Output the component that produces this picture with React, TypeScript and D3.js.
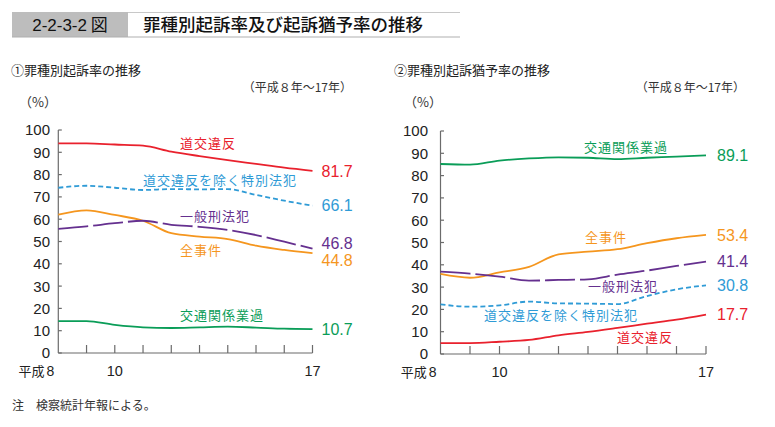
import React from "react";
import * as d3 from "d3";

// ---- data ----
const years = [8, 9, 10, 11, 12, 13, 14, 15, 16, 17];
const xTickLabels: Record<number, string> = { 8: "平成8", 10: "10", 17: "17" };
const yTicks = [0, 10, 20, 30, 40, 50, 60, 70, 80, 90, 100];

const seriesNames = ["全事件", "一般刑法犯", "道交違反を除く特別法犯", "道交違反", "交通関係業過"];

// ① 起訴率
const kisoZenjiken = [62.0, 64.0, 61.9, 59.3, 53.7, 52.2, 51.1, 48.1, 46.2, 44.8];
const kisoIppan = [55.7, 56.8, 58.2, 59.3, 57.5, 56.6, 55.2, 52.9, 49.9, 46.8];
const kisoTokubetsu = [74.1, 75.0, 74.1, 73.1, 73.5, 73.4, 73.5, 70.9, 68.3, 66.1];
const kisoDoukou = [94.0, 94.0, 93.5, 93.0, 90.3, 88.3, 86.5, 84.8, 83.1, 81.7];
const kisoKoutsu = [14.3, 14.3, 12.6, 11.5, 11.2, 11.5, 11.8, 11.4, 10.9, 10.7];

// ② 起訴猶予率
const yuyoZenjiken = [35.9, 34.2, 36.6, 39.1, 44.7, 45.9, 47.0, 49.7, 51.9, 53.4];
const yuyoIppan = [36.9, 36.0, 34.7, 32.9, 33.2, 33.5, 35.6, 37.4, 39.5, 41.4];
const yuyoTokubetsu = [22.3, 21.2, 21.8, 23.5, 22.7, 22.6, 22.4, 26.0, 29.0, 30.8];
const yuyoDoukou = [4.9, 4.9, 5.5, 6.3, 8.4, 9.9, 11.7, 13.6, 15.4, 17.7];
const yuyoKoutsu = [85.2, 84.9, 86.7, 87.7, 88.2, 88.0, 87.4, 88.0, 88.5, 89.1];

// ---- styles ----
const colors = ["#f5961e", "#65308f", "#2f9bd6", "#e9212d", "#0a9d58"];
const dashes = ["", "30,5", "5,3", "", ""];

const JP = "'Noto Sans CJK JP', 'Noto Sans', sans-serif";
const NUM = "'Liberation Sans', Arial, sans-serif";

type Panel = {
  title: string;
  sub: string;
  values: number[][];
  xRange: [number, number];
  yRange: [number, number];
  yLabelX: number;
  titleX: number;
  subRight: number;
  pctX: number;
  nameLabels: { x: number; y: number }[];
  valueDy: number[];
  valueDx: number;
};

const panels: Panel[] = [
  {
    title: "①罪種別起訴率の推移",
    sub: "（平成８年～17年）",
    values: [kisoZenjiken, kisoIppan, kisoTokubetsu, kisoDoukou, kisoKoutsu],
    xRange: [58.3, 312.5],
    yRange: [353, 130],
    yLabelX: 50,
    titleX: 11,
    subRight: 352,
    pctX: 19,
    nameLabels: [
      { x: 180, y: 255 },
      { x: 180, y: 221 },
      { x: 143, y: 185 },
      { x: 180, y: 148 },
      { x: 180, y: 320 },
    ],
    valueDy: [7, -5, 0, 0, 0],
    valueDx: 9,
  },
  {
    title: "②罪種別起訴猶予率の推移",
    sub: "（平成８年～17年）",
    values: [yuyoZenjiken, yuyoIppan, yuyoTokubetsu, yuyoDoukou, yuyoKoutsu],
    xRange: [440.5, 706],
    yRange: [354, 131],
    yLabelX: 428,
    titleX: 394,
    subRight: 745,
    pctX: 404,
    nameLabels: [
      { x: 585, y: 242 },
      { x: 588, y: 291 },
      { x: 484, y: 320 },
      { x: 617, y: 342 },
      { x: 584, y: 152 },
    ],
    valueDy: [0, 0, 0, 0, 0],
    valueDx: 11,
  },
];

function PanelView({ p }: { p: Panel }) {
  const x = d3.scaleLinear().domain([8, 17]).range(p.xRange);
  const y = d3.scaleLinear().domain([0, 100]).range(p.yRange);
  const line = d3
    .line<number>()
    .x((_, i) => x(years[i]))
    .y((v) => y(v))
    .curve(d3.curveMonotoneX);
  const axisColor = "#6b6b6b";
  const x0 = x(8);
  const y0 = y(0);
  return (
    <g>
      <text x={p.titleX} y={75} fontFamily={JP} fontSize={13} fill="#222">
        {p.title}
      </text>
      <text x={p.subRight} y={92} textAnchor="end" fontFamily={JP} fontSize={12} fill="#333">
        {p.sub}
      </text>
      <text x={p.pctX} y={107} fontFamily={JP} fontSize={13} fill="#333">
        （%）
      </text>
      {/* axes */}
      <line x1={x0} x2={x0} y1={y(100)} y2={y0} stroke={axisColor} strokeWidth={1.2} />
      <line x1={x0} x2={x(17)} y1={y0} y2={y0} stroke={axisColor} strokeWidth={1.2} />
      {yTicks.map((t) => (
        <g key={"y" + t}>
          <line x1={x0} x2={x0 + 3.5} y1={y(t)} y2={y(t)} stroke={axisColor} strokeWidth={1.2} />
          <text
            x={p.yLabelX}
            y={y(t)}
            dy="0.36em"
            textAnchor="end"
            fontFamily={NUM}
            fontSize={15}
            fill="#222"
          >
            {t}
          </text>
        </g>
      ))}
      {years.map((yr) => (
        <g key={"x" + yr}>
          {yr !== 8 && (
            <line x1={x(yr)} x2={x(yr)} y1={y0} y2={y0 - 8} stroke={axisColor} strokeWidth={1.2} />
          )}
          {xTickLabels[yr] && (
            <text
              x={yr === 8 ? x(yr) - 4 : x(yr)}
              y={y0 + 23}
              textAnchor={yr === 8 ? "end" : "middle"}
              fontFamily={yr === 8 ? JP : NUM}
              fontSize={14.5}
              fill="#222"
            >
              {yr === 8 ? (
                <>
                  <tspan fontFamily={JP} fontSize={13}>平成</tspan>
                  <tspan fontFamily={NUM} fontSize={14} dx={2}>8</tspan>
                </>
              ) : (
                xTickLabels[yr]
              )}
            </text>
          )}
        </g>
      ))}
      {/* lines */}
      {p.values.map((vals, i) => (
        <path
          key={"l" + i}
          d={line(vals) || ""}
          fill="none"
          stroke={colors[i]}
          strokeWidth={1.8}
          strokeDasharray={dashes[i] || undefined}
        />
      ))}
      {/* series name labels */}
      {seriesNames.map((n, i) => (
        <text
          key={"n" + i}
          x={p.nameLabels[i].x}
          y={p.nameLabels[i].y}
          fontFamily={JP}
          fontSize={13}
          letterSpacing={1}
          fill={colors[i]}
        >
          {n}
        </text>
      ))}
      {/* end value labels */}
      {p.values.map((vals, i) => (
        <text
          key={"v" + i}
          x={x(17) + p.valueDx}
          y={y(vals[vals.length - 1]) + p.valueDy[i]}
          dy="0.36em"
          fontFamily={NUM}
          fontSize={16}
          fill={colors[i]}
        >
          {vals[vals.length - 1].toFixed(1)}
        </text>
      ))}
    </g>
  );
}

export default function App() {
  return (
    <div style={{ position: "absolute", left: 0, top: 0 }}>
      <svg width={775} height={427} style={{ display: "block", background: "#fff" }}>
        {/* header */}
        <rect x={12} y={12} width={116} height={25} fill="#bdbdbd" />
        <line x1={128} x2={460} y1={12.5} y2={12.5} stroke="#c8c8c8" strokeWidth={1} />
        <line x1={12} x2={460} y1={37} y2={37} stroke="#b0b0b0" strokeWidth={1.2} />
        <text x={70} y={30.5} textAnchor="middle" fontFamily={NUM} fontSize={17} fill="#111">
          2-2-3-2
          <tspan fontFamily={JP}> 図</tspan>
        </text>
        <text x={143} y={31} fontFamily={JP} fontSize={17.5} fontWeight={500} fill="#111">
          罪種別起訴率及び起訴猶予率の推移
        </text>
        {panels.map((p, i) => (
          <PanelView key={i} p={p} />
        ))}
        <text x={12} y={410} fontFamily={JP} fontSize={12} fill="#333">
          注　検察統計年報による。
        </text>
      </svg>
    </div>
  );
}
